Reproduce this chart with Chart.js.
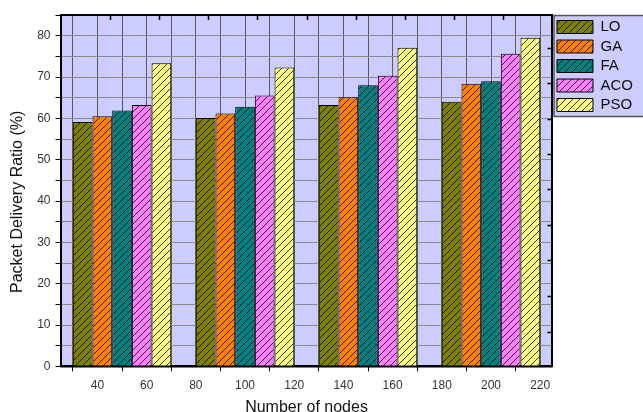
<!DOCTYPE html>
<html>
<head>
<meta charset="utf-8">
<script src="https://cdn.jsdelivr.net/npm/chart.js@4.4.1/dist/chart.umd.min.js"></script>
<style>
  html, body { margin: 0; padding: 0; background: #fff; }
  #wrap { width: 643px; height: 412px; }
</style>
</head>
<body>
<div id="wrap"><canvas id="chart" width="643" height="412"></canvas></div>
<script>
// Data
const GROUPS = ['50', '100', '150', '200'];
const SERIES = ['LO', 'GA', 'FA', 'ACO', 'PSO'];
const LO  = [59.1, 60.1, 63.2, 64.0];
const GA  = [60.5, 61.2, 65.1, 68.4];
const FA  = [61.9, 62.8, 68.0, 69.0];
const ACO = [63.2, 65.5, 70.3, 75.6];
const PSO = [73.3, 72.3, 77.1, 79.5];
const COLORS = ['#808000', '#ff8000', '#008080', '#ff80ff', '#ffff80'];

// Tick positions
const X_TICKS = [30, 40, 50, 60, 70, 80, 90, 100, 110, 120, 130, 140, 150, 160, 170, 180, 190, 200, 210, 220];
const Y_TICKS = [0, 5, 10, 15, 20, 25, 30, 35, 40, 45, 50, 55, 60, 65, 70, 75, 80, 85];
const TOP_TICKS = [45, 65, 85, 105, 125, 145, 165, 185, 205];
const RIGHT_TICKS = [8.3, 17.0, 25.7, 34.2, 42.8, 51.4, 59.9, 68.5, 77.1];

const FONT = 'Arial, "Liberation Sans", sans-serif';
const ctx = document.getElementById('chart').getContext('2d');

// diagonal hatch pattern, like the Origin fill
function hatch(color) {
    const s = 7;
    const c = document.createElement('canvas');
    c.width = s; c.height = s;
    const g = c.getContext('2d');
    g.fillStyle = color;
    g.fillRect(0, 0, s, s);
    g.strokeStyle = 'rgba(0,0,0,0.8)';
    g.lineWidth = 1;
    g.beginPath();
    g.moveTo(-1, s + 1); g.lineTo(s + 1, -1);
    g.moveTo(-1, 1); g.lineTo(1, -1);
    g.moveTo(s - 1, s + 1); g.lineTo(s + 1, s - 1);
    g.stroke();
    return ctx.createPattern(c, 'repeat');
}

const values = [LO, GA, FA, ACO, PSO];

// plot and legend backgrounds
const backgrounds = {
    id: 'backgrounds',
    beforeDraw(chart) {
        const a = chart.chartArea;
        const c = chart.ctx;
        c.save();
        c.fillStyle = '#ccccff';
        c.fillRect(a.left, a.top, a.right - a.left, a.bottom - a.top);
        const boxes = chart.legend.legendHitBoxes;
        if (boxes && boxes.length) {
            const x0 = Math.min(...boxes.map(b => b.left)) - 3;
            const y0 = Math.min(...boxes.map(b => b.top)) - 4;
            const y1 = Math.max(...boxes.map(b => b.top + b.height)) + 4;
            c.fillStyle = '#ccccff';
            c.fillRect(x0, y0, chart.width - x0 + 5, y1 - y0);
            c.strokeStyle = '#555';
            c.lineWidth = 1.5;
            c.strokeRect(x0, y0, chart.width - x0 + 5, y1 - y0);
        }
        c.restore();
    }
};

// short inward ticks on the top and right frame, and the base line over the bars
const innerTicks = {
    id: 'innerTicks',
    afterDatasetsDraw(chart) {
        const c = chart.ctx;
        const a = chart.chartArea;
        const top = chart.scales.xTop;
        const right = chart.scales.yRight;
        c.save();
        c.strokeStyle = '#000';
        c.lineWidth = 1.5;
        c.beginPath();
        TOP_TICKS.forEach(v => {
            const x = Math.round(top.getPixelForValue(v)) + 0.5;
            c.moveTo(x, a.top);
            c.lineTo(x, a.top + 5);
        });
        RIGHT_TICKS.forEach(v => {
            const y = Math.round(right.getPixelForValue(v)) + 0.5;
            c.moveTo(a.right, y);
            c.lineTo(a.right - 5, y);
        });
        c.stroke();
        c.lineWidth = 2;
        c.beginPath();
        c.moveTo(a.left, a.bottom);
        c.lineTo(a.right, a.bottom);
        c.stroke();
        c.restore();
    }
};

new Chart(ctx, {
    type: 'bar',
    data: {
        labels: GROUPS,
        datasets: SERIES.map((name, i) => ({
            label: name,
            data: values[i],
            xAxisID: 'x',
            yAxisID: 'y',
            backgroundColor: hatch(COLORS[i]),
            borderColor: '#000',
            borderWidth: 1,
            categoryPercentage: 0.8,
            barPercentage: 1.0
        }))
    },
    options: {
        responsive: false,
        animation: false,
        layout: { padding: { left: 8, top: 15, right: 0, bottom: -5 } },
        plugins: {
            tooltip: { enabled: false },
            legend: {
                position: 'right',
                align: 'start',
                maxWidth: 92,
                labels: {
                    boxWidth: 36,
                    boxHeight: 13,
                    padding: 4.5,
                    color: '#111',
                    font: { family: FONT, size: 15 }
                }
            }
        },
        scales: {
            x: { type: 'category', display: false, offset: true },
            xNum: {
                type: 'linear',
                position: 'bottom',
                min: 25,
                max: 225,
                offset: false,
                afterBuildTicks: s => { s.ticks = X_TICKS.map(v => ({ value: v })); },
                ticks: {
                    autoSkip: false,
                    maxRotation: 0,
                    padding: 7,
                    color: '#333',
                    font: { family: FONT, size: 12 },
                    callback: v => (v % 20 === 0 ? v : '')
                },
                grid: {
                    offset: false,
                    color: '#5a5a5a',
                    tickLength: 5,
                    tickColor: c => (c.tick && c.tick.value % 20 === 0 ? 'rgba(0,0,0,0)' : '#000')
                },
                border: { color: '#000', width: 2 },
                title: {
                    display: true,
                    text: 'Number of nodes',
                    color: '#111',
                    font: { family: FONT, size: 16 },
                    padding: { top: -2, bottom: 0 }
                }
            },
            xTop: {
                type: 'linear',
                position: 'top',
                min: 25,
                max: 225,
                offset: false,
                afterBuildTicks: s => { s.ticks = TOP_TICKS.map(v => ({ value: v })); },
                ticks: { display: false },
                grid: { offset: false, drawOnChartArea: false, drawTicks: false },
                border: { color: '#000', width: 2 }
            },
            y: {
                type: 'linear',
                position: 'left',
                min: 0,
                max: 85,
                afterBuildTicks: s => { s.ticks = Y_TICKS.map(v => ({ value: v })); },
                ticks: {
                    padding: 5,
                    color: '#333',
                    font: { family: FONT, size: 12 },
                    callback: v => (v % 10 === 0 ? v : '')
                },
                grid: { color: '#8a8a8a', tickLength: 5, tickColor: '#000' },
                border: { color: '#000', width: 2 },
                title: {
                    display: true,
                    // trailing spaces nudge the title down, as in the original
                    text: 'Packet Delivery Ratio (%)     ',
                    color: '#111',
                    font: { family: FONT, size: 16 },
                    padding: { top: 0, bottom: 5 }
                }
            },
            yRight: {
                type: 'linear',
                position: 'right',
                min: 0,
                max: 85,
                afterBuildTicks: s => { s.ticks = RIGHT_TICKS.map(v => ({ value: v })); },
                ticks: { display: false },
                grid: { drawOnChartArea: false, drawTicks: false },
                border: { color: '#000', width: 2 }
            }
        }
    },
    plugins: [backgrounds, innerTicks]
});
</script>
</body>
</html>
